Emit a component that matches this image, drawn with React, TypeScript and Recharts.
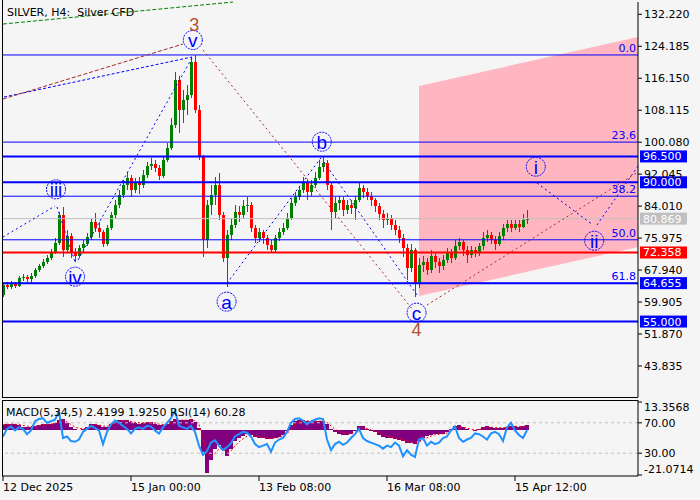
import React from "react";
import { ComposedChart, Bar, Line, Area, Scatter, XAxis, YAxis, ReferenceLine } from "recharts";

// H4 candles, one per index
const opens = [
  61.7, 64.2, 63.7, 64.4, 63.9, 65.9, 66.2, 65.7, 66.4, 68.0,
  69.0, 70.0, 71.0, 72.5, 74.7, 81.8, 73.0, 76.5, 72.5, 71.5,
  73.5, 74.5, 76.2, 80.0, 78.5, 77.5, 74.5, 78.5, 81.8, 84.3,
  86.8, 89.3, 91.1, 88.1, 90.1, 89.3, 91.8, 94.1, 94.6, 93.6,
  91.6, 95.6, 98.6, 104.4, 115.7, 108.2, 110.7, 111.9, 120.2, 108.2,
  96.4, 75.5, 84.3, 86.8, 89.3, 81.8, 71.0, 76.8, 79.3, 82.5,
  81.8, 84.0, 84.3, 78.5, 76.0, 77.5, 76.0, 74.2, 73.0, 76.0,
  77.5, 78.5, 81.0, 84.8, 86.3, 88.1, 89.8, 87.6, 89.3, 91.1,
  93.8, 94.8, 89.3, 82.5, 84.8, 85.6, 83.0, 84.3, 83.5, 85.6,
  88.6, 87.6, 86.6, 85.6, 84.0, 82.0, 80.5, 81.0, 79.3, 78.0,
  76.0, 73.5, 68.5, 73.0, 64.7, 69.2, 70.0, 68.0, 71.5, 70.0,
  69.0, 70.5, 72.2, 71.0, 74.0, 75.0, 73.0, 71.7, 73.0, 72.5,
  74.0, 76.0, 76.8, 75.5, 74.5, 76.5, 78.5, 79.5, 78.5, 79.5,
  78.8, 80.5,
];
const highs = [
  64.7, 64.9, 65.2, 64.9, 66.4, 66.9, 66.7, 67.2, 68.5, 69.5,
  70.7, 71.7, 73.2, 76.0, 82.5, 83.8, 78.0, 77.3, 73.5, 74.2,
  75.5, 77.3, 81.0, 82.3, 80.0, 78.0, 79.3, 82.5, 85.6, 88.1,
  90.6, 92.6, 91.8, 91.1, 91.3, 93.1, 95.1, 96.1, 95.6, 94.3,
  96.6, 99.9, 106.2, 117.7, 116.7, 113.2, 114.5, 121.5, 122.0, 109.4,
  96.9, 85.6, 89.3, 91.3, 92.3, 82.5, 78.0, 81.0, 84.3, 84.0,
  85.6, 86.3, 85.0, 79.3, 78.5, 78.0, 76.8, 75.5, 76.8, 78.5,
  79.8, 82.3, 86.1, 87.6, 89.1, 91.3, 90.6, 90.6, 92.6, 95.6,
  96.4, 95.6, 90.1, 86.3, 86.6, 86.3, 85.6, 85.6, 86.6, 89.8,
  89.3, 88.6, 87.6, 86.1, 84.8, 83.0, 82.3, 81.8, 80.5, 79.0,
  77.0, 74.5, 74.5, 73.5, 71.0, 71.5, 71.0, 73.0, 72.5, 71.0,
  71.7, 73.5, 73.2, 75.5, 76.0, 75.5, 74.0, 74.0, 73.7, 74.7,
  77.5, 78.0, 77.5, 76.5, 77.5, 79.5, 80.5, 80.5, 80.5, 80.5,
  82.0, 83.0,
];
const lows = [
  61.2, 63.2, 63.2, 63.4, 63.7, 65.2, 64.9, 64.7, 65.9, 67.5,
  68.5, 69.5, 70.5, 72.0, 74.2, 71.2, 72.5, 71.0, 70.0, 71.0,
  72.5, 74.0, 75.5, 77.5, 76.0, 73.7, 74.0, 78.0, 81.0, 83.5,
  86.1, 88.1, 86.3, 87.3, 87.1, 88.6, 91.1, 93.1, 92.6, 90.6,
  91.1, 95.1, 98.1, 103.6, 102.4, 104.9, 106.9, 111.2, 107.4, 95.6,
  71.2, 73.5, 81.8, 84.3, 80.5, 70.0, 63.7, 75.5, 78.5, 80.0,
  81.0, 82.5, 77.5, 74.7, 75.0, 74.5, 73.0, 72.2, 72.5, 75.2,
  76.8, 78.0, 80.5, 84.0, 85.6, 87.3, 85.6, 86.6, 88.6, 90.6,
  92.6, 88.1, 78.0, 81.0, 83.0, 81.5, 82.0, 82.0, 80.5, 85.0,
  86.1, 85.6, 84.0, 82.5, 80.5, 78.5, 79.3, 78.0, 76.8, 74.7,
  71.2, 65.4, 67.5, 61.2, 63.4, 67.5, 66.7, 67.2, 68.5, 67.2,
  68.0, 69.7, 69.7, 70.5, 73.0, 71.5, 69.7, 71.0, 71.2, 71.5,
  73.0, 75.0, 74.5, 73.0, 74.0, 75.5, 77.5, 77.5, 78.0, 77.5,
  78.5, 79.5,
];
const closes = [
  64.2, 63.7, 64.4, 63.9, 65.9, 66.2, 65.7, 66.4, 68.0, 69.0,
  70.0, 71.0, 72.5, 74.7, 81.8, 73.0, 76.5, 72.5, 71.5, 73.5,
  74.5, 76.2, 80.0, 78.5, 77.5, 74.5, 78.5, 81.8, 84.3, 86.8,
  89.3, 91.1, 88.1, 90.1, 89.3, 91.8, 94.1, 94.6, 93.6, 91.6,
  95.6, 98.6, 104.4, 115.7, 108.2, 110.7, 111.9, 120.2, 108.2, 96.4,
  75.5, 84.3, 86.8, 89.3, 81.8, 71.0, 76.8, 79.3, 82.5, 81.8,
  84.0, 84.3, 78.5, 76.0, 77.5, 76.0, 74.2, 73.0, 76.0, 77.5,
  78.5, 81.0, 84.8, 86.3, 88.1, 89.8, 87.6, 89.3, 91.1, 93.8,
  94.8, 89.3, 82.5, 84.8, 85.6, 83.0, 84.3, 83.5, 85.6, 88.6,
  87.6, 86.6, 85.6, 84.0, 82.0, 80.5, 81.0, 79.3, 78.0, 76.0,
  73.5, 68.5, 73.0, 64.7, 69.2, 70.0, 68.0, 71.5, 70.0, 69.0,
  70.5, 72.2, 71.0, 74.0, 75.0, 73.0, 71.7, 73.0, 72.5, 74.0,
  76.0, 76.8, 75.5, 74.5, 76.5, 78.5, 79.5, 78.5, 79.5, 78.8,
  80.5, 80.87,
];

// MACD(5,34,5) main / signal, RSI(14)
const macdMain = [
  2.5, 3.0, 3.0, 2.8, 2.5, 1.8, 1.5, 1.5, 2.0, 2.5,
  3.0, 3.0, 3.2, 3.5, 5.0, 5.2, 3.5, 1.5, 0.5, 0.2,
  0.5, 1.5, 3.0, 3.2, 2.5, 1.5, 1.8, 3.0, 4.2, 4.8,
  5.0, 4.8, 3.8, 3.5, 3.2, 3.5, 3.8, 3.8, 3.2, 2.5,
  2.5, 3.0, 4.5, 5.5, 5.0, 4.8, 4.8, 5.2, 4.0, 1.0,
  -10, -20, -14, -9, -7, -9, -12, -9, -5, -3.5,
  -2.5, -1.5, -2.0, -3.0, -3.5, -3.5, -4.0, -4.0, -3.5, -3.0,
  -2.0, -0.5, 2.5, 4.5, 5.0, 5.0, 4.5, 4.0, 4.2, 4.5,
  4.5, 3.0, 0.5, -1.0, -1.5, -2.0, -2.0, -1.5, -0.5, 2.0,
  2.0, 0.5, -0.5, -1.0, -2.0, -3.0, -3.5, -3.8, -4.0, -4.5,
  -5.0, -6.0, -6.0, -6.5, -5.0, -3.5, -2.5, -2.0, -1.5, -1.5,
  -1.5, -1.0, 0.5, 2.0, 2.5, 1.5, 0.5, 0.3, -0.3, 0.5,
  1.5, 2.0, 1.5, 1.2, 1.0, 1.2, 1.5, 2.2, 2.0, 1.8,
  2.0, 2.4199,
];
const macdSignal = [
  2.6, 2.8, 2.9, 2.9, 2.7, 2.3, 2.0, 1.8, 1.9, 2.2,
  2.6, 2.8, 3.0, 3.2, 4.0, 4.6, 4.0, 2.7, 1.6, 0.9,
  0.7, 1.1, 2.0, 2.6, 2.5, 2.0, 1.9, 2.4, 3.3, 4.0,
  4.5, 4.7, 4.2, 3.8, 3.5, 3.5, 3.7, 3.7, 3.4, 2.9,
  2.7, 2.8, 3.6, 4.6, 4.8, 4.8, 4.8, 5.0, 4.5, 2.8,
  -3.5, -11.0, -12.5, -10.8, -8.8, -8.9, -10.5, -9.7, -7.3, -5.4,
  -4.0, -2.8, -2.4, -2.7, -3.1, -3.3, -3.6, -3.8, -3.6, -3.3,
  -2.6, -1.6, 0.5, 2.5, 3.8, 4.4, 4.5, 4.2, 4.2, 4.3,
  4.4, 3.7, 2.1, 0.5, -0.5, -1.2, -1.6, -1.5, -1.0, 0.5,
  1.2, 0.9, 0.2, -0.4, -1.2, -2.1, -2.8, -3.3, -3.6, -4.0,
  -4.5, -5.2, -5.6, -6.0, -5.5, -4.5, -3.5, -2.7, -2.1, -1.8,
  -1.6, -1.3, -0.4, 0.8, 1.6, 1.6, 1.0, 0.6, 0.2, 0.3,
  0.9, 1.5, 1.5, 1.3, 1.2, 1.2, 1.3, 1.8, 1.9, 1.8,
  1.9, 1.925,
];
const rsiValues = [
  52, 62, 65, 60, 64, 62, 55, 60, 72, 75,
  76, 70, 72, 74, 85, 50, 52, 46, 45, 48,
  58, 62, 66, 63, 60, 42, 58, 68, 73, 70,
  66, 62, 56, 62, 64, 62, 66, 65, 60, 56,
  64, 70, 76, 86, 66, 64, 62, 66, 58, 40,
  28, 33, 44, 47, 40, 34, 38, 43, 52, 55,
  58, 57, 52, 42, 38, 40, 42, 32, 44, 48,
  50, 58, 70, 75, 76, 73, 68, 72, 74, 76,
  75, 48, 34, 42, 45, 41, 44, 50, 55, 62,
  50, 46, 44, 42, 40, 36, 40, 38, 44, 40,
  26, 34, 28, 25, 48, 50, 40, 45, 42, 44,
  50, 52, 60, 65, 50, 45, 48, 50, 56, 55,
  52, 48, 56, 58, 55, 46, 64, 70, 60, 54,
  50, 60.28,
];

const timeTickIdx = [0, 32, 64, 96, 128];
const timeTickLabels = ["12 Dec 2025", "15 Jan 00:00", "13 Feb 08:00", "16 Mar 08:00", "15 Apr 12:00"];
const priceTicks = [132.22, 124.185, 116.15, 108.115, 100.08, 92.045, 84.01, 75.975, 67.94, 59.905, 51.87, 43.835];

// price levels with tags on the scale
const levelPrices = [96.5, 90.0, 80.869, 72.358, 64.655, 55.0];
const levelTags = ["96.500", "90.000", "80.869", "72.358", "64.655", "55.000"];

// fibo retracement
const fibNames = ["0.0", "23.6", "38.2", "50.0", "61.8"];
const fibPrices = [122.0, 100.1, 86.5, 75.55, 64.6];

// elliott wave marks
const waveNames = ["iii", "iv", "v", "a", "b", "c", "i", "ii"];
const waveIdx = [13.25, 18, 47.45, 55.9, 79.7, 103.4, 133.2, 147.8];
const wavePrice = [88.23, 66.28, 125.76, 60.0, 100.2, 57.23, 93.92, 75.32];
const degreeNames = ["3", "4"];
const degreeIdx = [47.8, 103.4];
const degreePrice = [129.7, 52.9];

// wave lines [idx, price] -> [idx, price]
const waveLineFrom = [
  [0, 129.78], [0.25, 111.43], [0, 110.93], [0, 76.25], [13.5, 83.79], [18.75, 70.47],
  [56, 64.61], [80.25, 95.1], [133.5, 89.82], [148.5, 79.27], [50, 123.25], [106, 59.16],
];
const waveLineTo = [
  [57.5, 135.3], [47.25, 121.49], [45, 124.75], [13, 84.04], [18, 69.97], [47.25, 121.23],
  [79.7, 96.43], [103.5, 61.68], [147.5, 79.27], [158.75, 94.09], [102.5, 57.91], [158.75, 92.59],
];

// projected channel
const channelIdx = [104, 158.75];
const channelLow = [61.42, 73.74];
const channelHigh = [114.2, 126.51];

const BLUE = "#0000ff";
const lineStyles = [
  { stroke: "#008000", dash: "4 2" },
  { stroke: BLUE, dash: "3 2" },
  { stroke: "#a52a2a", dash: "4 2" },
  { stroke: BLUE, dash: "2 3" },
  { stroke: BLUE, dash: "2 3" },
  { stroke: BLUE, dash: "2 3" },
  { stroke: BLUE, dash: "2 3" },
  { stroke: BLUE, dash: "2 3" },
  { stroke: BLUE, dash: "2 3" },
  { stroke: BLUE, dash: "2 3" },
  { stroke: "#a52a2a", dash: "2 3" },
  { stroke: "#a52a2a", dash: "2 3" },
];
const levelStyles = [
  { stroke: BLUE, width: 2 },
  { stroke: BLUE, width: 2 },
  { stroke: "#c0c0c0", width: 1 },
  { stroke: "#ff0000", width: 2 },
  { stroke: BLUE, width: 2 },
  { stroke: BLUE, width: 2 },
];

const priceRows: any[] = opens.map((o, i) => ({
  x: i,
  open: o,
  high: highs[i],
  low: lows[i],
  close: closes[i],
  wick: [lows[i], highs[i]],
}));
channelIdx.forEach((cx, k) => {
  const row = priceRows.find((r) => r.x === cx);
  if (row) row.channel = [channelLow[k], channelHigh[k]];
  else priceRows.push({ x: cx, channel: [channelLow[k], channelHigh[k]] });
});
priceRows.sort((a, b) => a.x - b.x);

const indicatorRows = macdMain.map((m, i) => ({ x: i, macd: m, signal: macdSignal[i], rsi: rsiValues[i] }));
const waveData = waveNames.map((t, k) => ({ x: waveIdx[k], y: wavePrice[k], label: t }));
const degreeData = degreeNames.map((t, k) => ({ x: degreeIdx[k], y: degreePrice[k], label: t }));

const X_DOMAIN = [-0.25, 158.75];

const Candle = (props: any) => {
  const { x, y, width, height, payload } = props;
  if (!payload || payload.open == null || !height) return null;
  const { open, close, high, low } = payload;
  const k = height / (high - low);
  const yo = y + (high - open) * k;
  const yc = y + (high - close) * k;
  const color = close >= open ? "#008000" : "#ff0000";
  const cx = Math.round(x + width / 2);
  const top = Math.round(Math.min(yo, yc));
  const h = Math.max(1, Math.round(Math.abs(yc - yo)));
  return (
    <g shapeRendering="crispEdges">
      <rect x={cx} y={y} width={1} height={height} fill={color} />
      <rect x={cx - 1} y={top} width={3} height={h} fill={color} />
    </g>
  );
};

// histogram columns packed edge to edge
const HistColumn = (props: any) => {
  const { x, y, width, height, fill } = props;
  if (height == null || width == null) return null;
  const top = Math.min(y, y + height);
  const h = Math.abs(height);
  const cx = Math.round(x + width / 2);
  return <rect x={cx - 2} y={top} width={4} height={Math.max(h, 0.5)} fill={fill} shapeRendering="crispEdges" />;
};

const WaveMark = (props: any) => {
  const { cx, cy, payload } = props;
  return (
    <g>
      <circle cx={cx} cy={cy} r={9.5} fill="none" stroke={BLUE} strokeDasharray="2 1" />
      <text x={cx} y={cy + 7} textAnchor="middle" fontSize={19} fontFamily="Liberation Sans, Arial" fill={BLUE}>
        {payload.label}
      </text>
    </g>
  );
};

const DegreeMark = (props: any) => {
  const { cx, cy, payload } = props;
  return (
    <text x={cx} y={cy + 6.5} textAnchor="middle" fontSize={18} fontFamily="Liberation Sans, Arial" fill="#b4502d">
      {payload.label}
    </text>
  );
};

const PriceTag = (props: any) => {
  const { viewBox, text, bg } = props;
  const x = viewBox.x + viewBox.width + 2;
  const y = viewBox.y;
  return (
    <g>
      <rect x={x} y={y - 6} width={47} height={12} fill={bg} />
      <text x={x + 3} y={y} dy="0.36em" fontSize={11} fill="#ffffff">{text}</text>
    </g>
  );
};

const FibTag = (props: any) => {
  const { viewBox, text } = props;
  return (
    <text x={viewBox.x + viewBox.width - 2} y={viewBox.y - 3} textAnchor="end" fontSize={11} fill={BLUE}>
      {text}
    </text>
  );
};

const ScaleTag = (props: any) => {
  const { viewBox, text, shift } = props;
  const x = viewBox.x + viewBox.width;
  const y = viewBox.y;
  return (
    <g>
      <line x1={x} x2={x + 4} y1={y} y2={y} stroke="#000" />
      <text x={x + 6} y={y + shift} dy="0.36em" fontSize={11} fill="#000">{text}</text>
    </g>
  );
};

const TimeTick = (props: any) => {
  const { x, y, payload } = props;
  const k = timeTickIdx.indexOf(payload.value);
  return (
    <text x={x} y={y} dy="0.71em" textAnchor="start" fontSize={11} fill="#000">
      {timeTickLabels[k]}
    </text>
  );
};

const frame = (left: number, top: number, width: number, height: number) => (
  <div style={{ position: "absolute", left, top, width, height, background: "#000" }} />
);

export default function App() {
  return (
    <div
      style={{
        position: "absolute",
        left: 0,
        top: 0,
        width: 700,
        height: 500,
        overflow: "hidden",
        background: "#f5f5f5",
        fontFamily: '"DejaVu Sans", sans-serif',
      }}
    >
      <div style={{ position: "absolute", left: 0, top: 0 }}>
        <ComposedChart width={700} height={500} data={priceRows} margin={{ top: 2, right: 0, bottom: 103, left: 2 }}>
          <XAxis dataKey="x" type="number" domain={X_DOMAIN} allowDataOverflow hide />
          <YAxis
            orientation="right"
            domain={[36.04, 135.31]}
            allowDataOverflow
            ticks={priceTicks}
            interval={0}
            width={62}
            tickFormatter={(v: number) => v.toFixed(3)}
            tick={{ fontSize: 11, fill: "#000" }}
            tickSize={4}
            tickMargin={2}
            axisLine={{ stroke: "#000" }}
            tickLine={{ stroke: "#000" }}
          />
          <Area
            type="linear"
            dataKey="channel"
            connectNulls
            fill="#ffb6c1"
            fillOpacity={1}
            stroke="none"
            isAnimationActive={false}
          />
          <Bar dataKey="wick" barSize={3} shape={<Candle />} isAnimationActive={false} />
          {fibPrices.map((p, k) => (
            <ReferenceLine key={"f" + k} y={p} stroke={BLUE} strokeWidth={1} label={<FibTag text={fibNames[k]} />} />
          ))}
          {levelPrices.map((p, k) => (
            <ReferenceLine
              key={"l" + k}
              y={p}
              stroke={levelStyles[k].stroke}
              strokeWidth={levelStyles[k].width}
              label={<PriceTag text={levelTags[k]} bg={levelStyles[k].stroke} />}
            />
          ))}
          {waveLineFrom.map((f, k) => (
            <ReferenceLine
              key={"w" + k}
              segment={[
                { x: f[0], y: f[1] },
                { x: waveLineTo[k][0], y: waveLineTo[k][1] },
              ]}
              stroke={lineStyles[k].stroke}
              strokeDasharray={lineStyles[k].dash}
              ifOverflow="visible"
            />
          ))}
          <Scatter data={waveData} dataKey="y" shape={WaveMark} isAnimationActive={false} />
          <Scatter data={degreeData} dataKey="y" shape={DegreeMark} isAnimationActive={false} />
        </ComposedChart>
      </div>

      <div style={{ position: "absolute", left: 0, top: 0 }}>
        <ComposedChart width={700} height={500} data={indicatorRows} margin={{ top: 400, right: 0, bottom: 0, left: 2 }}>
          <XAxis
            dataKey="x"
            type="number"
            domain={X_DOMAIN}
            allowDataOverflow
            ticks={timeTickIdx}
            interval={0}
            height={24}
            tickSize={5}
            tickMargin={2}
            tick={<TimeTick />}
            axisLine={{ stroke: "#000" }}
            tickLine={{ stroke: "#000" }}
          />
          <YAxis
            yAxisId="rsi"
            orientation="right"
            domain={[0, 100]}
            ticks={[70, 30]}
            interval={0}
            width={62}
            tickFormatter={(v: number) => v.toFixed(2)}
            tick={{ fontSize: 11, fill: "#000" }}
            tickSize={4}
            tickMargin={2}
            axisLine={{ stroke: "#000" }}
            tickLine={{ stroke: "#000" }}
          />
          <YAxis yAxisId="macd" hide domain={[-21.54, 14.3]} allowDataOverflow />
          <ReferenceLine yAxisId="rsi" y={70} stroke="#c0c0c0" strokeDasharray="3 3" />
          <ReferenceLine yAxisId="rsi" y={30} stroke="#c0c0c0" strokeDasharray="3 3" />
          <Bar
            yAxisId="macd"
            dataKey="macd"
            fill="#800080"
            barSize={4}
            shape={<HistColumn />}
            isAnimationActive={false}
          />
          <Line
            yAxisId="macd"
            type="linear"
            dataKey="signal"
            stroke="#ff0000"
            strokeDasharray="2 2"
            dot={false}
            isAnimationActive={false}
          />
          <Line
            yAxisId="rsi"
            type="linear"
            dataKey="rsi"
            stroke="#1e90ff"
            strokeWidth={2}
            dot={false}
            isAnimationActive={false}
          />
          <ReferenceLine yAxisId="macd" y={13.3568} stroke="none" label={<ScaleTag text="13.3568" shift={5} />} />
          <ReferenceLine yAxisId="macd" y={-21.0714} stroke="none" label={<ScaleTag text="-21.0714" shift={-6} />} />
        </ComposedChart>
      </div>

      {frame(2, 0, 1, 398)}
      {frame(2, 397, 636, 1)}
      {frame(2, 400, 1, 76)}
      {frame(2, 400, 636, 1)}

      <div style={{ position: "absolute", left: 7, top: 6, fontSize: 11, color: "#000", whiteSpace: "pre" }}>
        SILVER, H4:  Silver CFD
      </div>
      <div style={{ position: "absolute", left: 6, top: 406, fontSize: 11, color: "#000", whiteSpace: "pre" }}>
        MACD(5,34,5) 2.4199 1.9250 RSI(14) 60.28
      </div>
    </div>
  );
}
